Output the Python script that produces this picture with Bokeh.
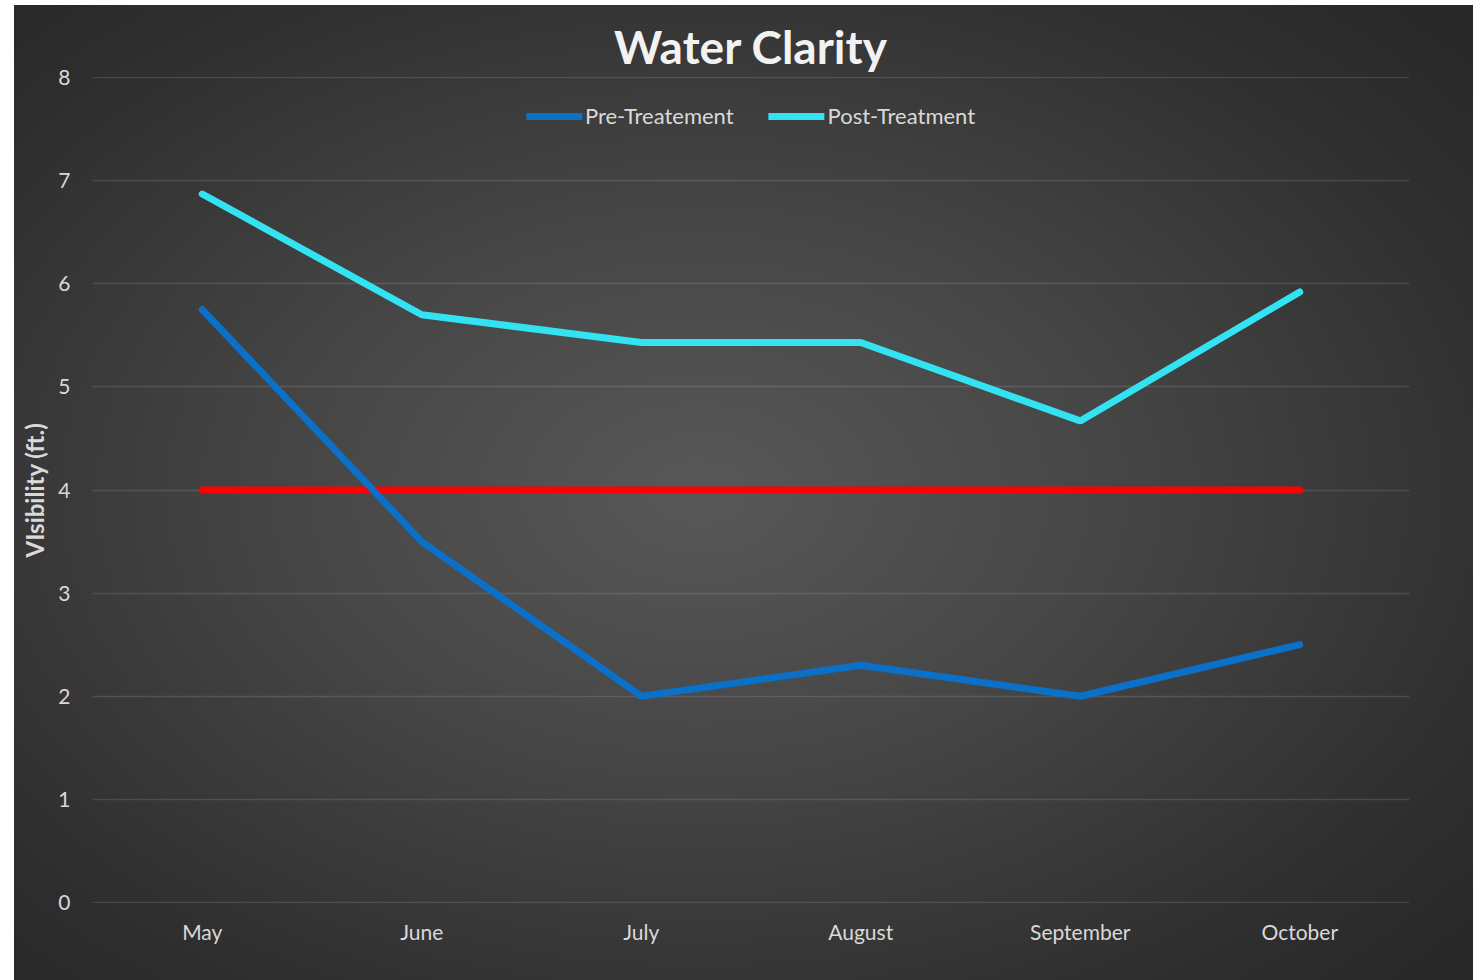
from bokeh.plotting import figure
from bokeh.models import FactorRange, Range1d, Legend, LegendItem, FixedTicker
from bokeh.embed import file_html
from bokeh.resources import INLINE

months = ["May", "June", "July", "August", "September", "October"]
pre_treatment = [5.75, 3.5, 2.0, 2.3, 2.0, 2.5]
post_treatment = [6.87, 5.7, 5.43, 5.43, 4.67, 5.92]
threshold = [4, 4, 4, 4, 4, 4]
y_ticks = [0, 1, 2, 3, 4, 5, 6, 7, 8]

FONT = "Lato"
TXT = "#d9d9d9"

p = figure(
    x_range=FactorRange(factors=months),
    y_range=Range1d(-0.01, 8.01),
    width=1459, height=975,
    output_backend="svg", toolbar_location=None,
    min_border_left=78, min_border_right=64,
    min_border_top=71, min_border_bottom=77,
)
p.margin = (5, 0, 0, 14)
p.styles = {"background": "radial-gradient(ellipse 70% 70% at 47% 50%, #585858 0%, #464646 40%, #303030 80%, #282828 100%)"}
p.background_fill_alpha = 0
p.border_fill_alpha = 0
p.outline_line_color = None

p.title.text = "Water Clarity"
p.title.text_font = FONT
p.title.text_font_size = "46px"
p.title.text_font_style = "bold"
p.title.text_color = "#f2f2f2"
p.title.align = "center"
p.title.offset = -7
p.title.standoff = 5

r_thr = p.line(months, threshold, line_color="#ff0000", line_width=7, line_cap="round")
r_pre = p.line(months, pre_treatment, line_color="#0a70c8", line_width=7, line_cap="round")
r_post = p.line(months, post_treatment, line_color="#33e3f2", line_width=7, line_cap="round")

legend = Legend(items=[
    LegendItem(label="Pre-Treatement", renderers=[r_pre]),
    LegendItem(label="Post-Treatment", renderers=[r_post]),
], orientation="horizontal", location="top_center")
legend.background_fill_alpha = 0
legend.border_line_color = None
legend.margin = 26
legend.padding = 0
legend.spacing = 35
legend.glyph_width = 56
legend.label_standoff = 3
legend.label_text_font = FONT
legend.label_text_font_size = "22px"
legend.label_text_color = TXT
p.add_layout(legend, "center")

p.yaxis.ticker = FixedTicker(ticks=y_ticks)
for ax in (p.xaxis[0], p.yaxis[0]):
    ax.axis_line_color = None
    ax.major_tick_line_color = None
    ax.minor_tick_line_color = None
    ax.major_tick_out = 0
    ax.major_tick_in = 0
    ax.minor_tick_out = 0
    ax.major_label_text_font = FONT
    ax.major_label_text_font_size = "21px"
    ax.major_label_text_color = TXT
p.yaxis.major_label_standoff = 22
p.xaxis.major_label_standoff = 15
p.yaxis.axis_label = "VIsibility (ft.)"
p.yaxis.axis_label_text_font = FONT
p.yaxis.axis_label_text_font_size = "24px"
p.yaxis.axis_label_text_font_style = "bold"
p.yaxis.axis_label_text_color = TXT
p.yaxis.axis_label_standoff = 6

p.xgrid.grid_line_color = None
p.ygrid.grid_line_color = "#ffffff"
p.ygrid.grid_line_alpha = 0.12
p.ygrid.grid_line_width = 1.5

open("out.html", "w").write(file_html(p, INLINE))
